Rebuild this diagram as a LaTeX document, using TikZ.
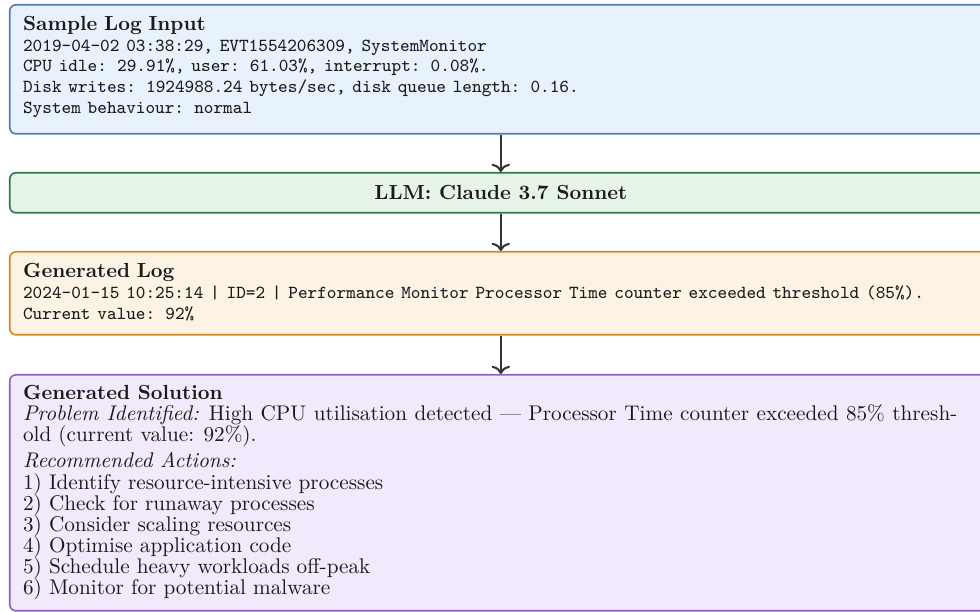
\documentclass[tikz,border=0pt]{standalone}
\usetikzlibrary{arrows.meta}
\definecolor{inFill}{HTML}{E8F2FD}
\definecolor{inLine}{HTML}{4F7CAC}
\definecolor{llmFill}{HTML}{E6F4E8}
\definecolor{llmLine}{HTML}{2A7A55}
\definecolor{logFill}{HTML}{FDF3E5}
\definecolor{logLine}{HTML}{D4882A}
\definecolor{solFill}{HTML}{F2E9FC}
\definecolor{solLine}{HTML}{8E62C2}
\definecolor{arrowCol}{HTML}{333333}
\definecolor{textCol}{HTML}{1A1A1A}
\newcommand\mysolfont{\fontsize{10.4}{10.35}\selectfont\lineskiplimit=-10pt\relax}
\newcommand\mytitlefont{\fontsize{10}{10.35}\selectfont\bfseries}
\begin{document}
\begin{tikzpicture}[x=0.4902pt,y=-0.4902pt]
\useasboundingbox (0,0) rectangle (980,612);
\tikzset{
  boxbase/.style={draw, line width=0.8pt, rounded corners=3pt, anchor=north west,
    inner sep=0pt, minimum width={982*0.4902pt}, text=textCol},
  inbox/.style={boxbase, fill=inFill, draw=inLine},
  llmbox/.style={boxbase, fill=llmFill, draw=llmLine},
  logbox/.style={boxbase, fill=logFill, draw=logLine},
  solbox/.style={boxbase, fill=solFill, draw=solLine},
  ttlines/.style={anchor=base west, inner sep=0pt, text width=470pt, align=left,
    text=textCol, font=\fontsize{10}{10.1}\selectfont},
  soltext/.style={anchor=base west, inner sep=0pt, text width=458pt, align=justify,
    text=textCol, font=\mysolfont},
  flow/.style={draw=arrowCol, line width=1pt, -{To[length=4pt,width=9pt]}}
}
% boxes
\node[inbox, minimum height={129*0.4902pt}] (input) at (9,4) {};
\node[llmbox, minimum height={40*0.4902pt}] (llm) at (9,172) {\bfseries LLM: Claude 3.7 Sonnet};
\node[logbox, minimum height={83*0.4902pt}] (genlog) at (9,251) {};
\node[solbox, minimum height={236*0.4902pt}] (gensol) at (9,374) {};
% texts
\node[ttlines] (inputtext) at (22.7,30.7) {\textbf{Sample Log Input}\\
  \ttfamily\fontsize{9}{10.1}\selectfont 2019-04-02 03:38:29, EVT1554206309, SystemMonitor\\
  CPU idle: 29.91\%, user: 61.03\%, interrupt: 0.08\%.\\
  Disk writes: 1924988.24 bytes/sec, disk queue length: 0.16.\\
  System behaviour: normal};
\node[ttlines] (genlogtext) at (22.7,278) {\textbf{Generated Log}\\
  \ttfamily\fontsize{9}{10.1}\selectfont 2024-01-15 10:25:14 | ID=2 | Performance Monitor Processor Time counter exceeded threshold (85\%).\\
  Current value: 92\%};
\node[soltext] (gensoltext) at (22.7,399.3) {{\mytitlefont Generated Solution}\\
  \textit{Problem Identified:} High CPU utilisation detected --- Processor Time counter exceeded 85\% thresh-\linebreak old (current value: 92\%).\par
  \vspace{2.6pt}
  \textit{Recommended Actions:}\\
  1) Identify resource-intensive processes\\
  2) Check for runaway processes\\
  3) Consider scaling resources\\
  4) Optimise application code\\
  5) Schedule heavy workloads off-peak\\
  6) Monitor for potential malware};
% connectors
\draw[flow] (input) -- (llm);
\draw[flow] (llm) -- (genlog);
\draw[flow] (genlog) -- (gensol);
\end{tikzpicture}
\end{document}
